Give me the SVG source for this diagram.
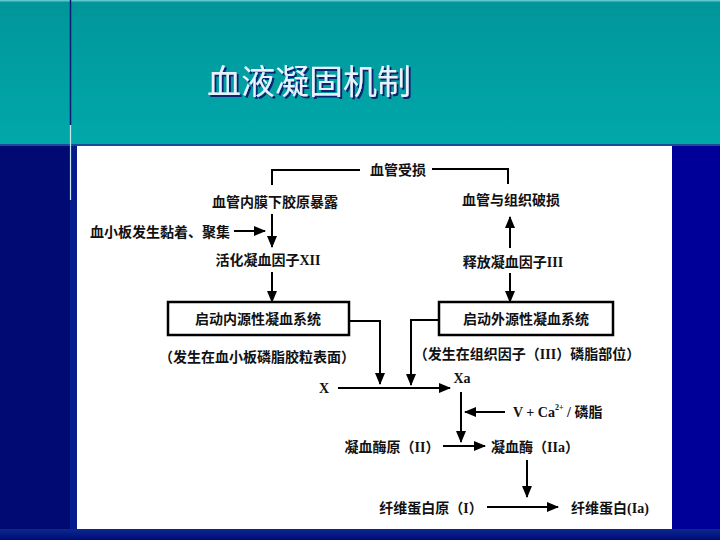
<svg xmlns="http://www.w3.org/2000/svg" width="720" height="540" viewBox="0 0 720 540">
<defs>
<linearGradient id="hdr" x1="0" y1="0" x2="0" y2="1">
<stop offset="0" stop-color="#00969a"/>
<stop offset="1" stop-color="#00a8aa"/>
</linearGradient>
<linearGradient id="bot" x1="0" y1="0" x2="0" y2="1">
<stop offset="0" stop-color="#0a2a8a"/>
<stop offset="1" stop-color="#000a7a"/>
</linearGradient>
<filter id="shadow" x="-10%" y="-20%" width="120%" height="150%">
<feDropShadow dx="2" dy="2" stdDeviation="0.3" flood-color="#0a2070" flood-opacity="1"/>
</filter>
<marker id="ah" markerUnits="userSpaceOnUse" markerWidth="12" markerHeight="10" refX="11" refY="5" orient="auto">
<path d="M0,0 L12,5 L0,10 Z" fill="#000"/>
</marker>
<style>
.t{font-family:"Liberation Serif","Noto Sans CJK SC",serif;font-size:14px;font-weight:bold;fill:#111;}
.m{text-anchor:middle;}
.c{fill:none;stroke:#000;stroke-width:2;}
.a{fill:none;stroke:#000;stroke-width:2;marker-end:url(#ah);}
.box{fill:#fff;stroke:#000;stroke-width:2.5;}
.title{font-family:"Noto Sans CJK SC",sans-serif;font-size:34px;fill:#e6f2ff;filter:url(#shadow);}
</style>
</defs>
<!-- background -->
<rect x="0" y="0" width="720" height="540" fill="#000a72"/>
<rect x="672" y="145" width="48" height="395" fill="#000099"/>
<rect x="70" y="145" width="8" height="395" fill="#061c8c"/>
<rect x="0" y="529" width="720" height="11" fill="url(#bot)"/>
<rect x="0" y="0" width="720" height="145" fill="url(#hdr)"/>
<rect x="0" y="0" width="720" height="1.5" fill="#5cc8cc"/>
<rect x="0" y="144" width="720" height="2" fill="#1a4a9a"/>
<line x1="70.5" y1="0" x2="70.5" y2="125" stroke="#0a1a70" stroke-width="1.5"/>
<line x1="70.5" y1="125" x2="70.5" y2="200" stroke="#c8e8f0" stroke-width="1.2"/>
<rect x="77" y="146" width="595" height="383" fill="#ffffff"/>
<!-- title -->
<g id="title">
<text class="title" x="207" y="94">血液凝固机制</text>
</g>
<!-- connectors -->
<g id="connectors">
<polyline class="c" points="360,170 272,170 272,185"/>
<polyline class="c" points="432,169 508,169 508,184"/>
<line class="a" x1="234" y1="231" x2="265" y2="231"/>
<line class="a" x1="272" y1="214" x2="272" y2="247"/>
<line class="a" x1="272" y1="272" x2="272" y2="302"/>
<polyline class="a" points="350,321 380,321 380,384"/>
<line class="a" x1="338" y1="388" x2="450" y2="388"/>
<polyline class="a" points="438,320 411,320 411,385"/>
<line class="a" x1="510" y1="248" x2="510" y2="217"/>
<line class="a" x1="510" y1="273" x2="510" y2="302"/>
<line class="a" x1="461" y1="392" x2="461" y2="442"/>
<line class="a" x1="505" y1="412" x2="465" y2="412"/>
<line class="a" x1="443" y1="446" x2="485" y2="446"/>
<line class="a" x1="527" y1="460" x2="527" y2="497"/>
<line class="a" x1="487" y1="507" x2="558" y2="507"/>
</g>
<!-- nodes -->
<g id="n-vessel-damage"><text class="t m" x="398" y="175">血管受损</text></g>
<g id="n-collagen"><text class="t m" x="275" y="207">血管内膜下胶原暴露</text></g>
<g id="n-platelet"><text class="t" x="90" y="237">血小板发生黏着、聚集</text></g>
<g id="n-f12"><text class="t m" x="268" y="265">活化凝血因子XII</text></g>
<g id="n-intrinsic">
<rect class="box" x="168" y="302" width="181" height="33"/>
<text class="t m" x="258" y="324">启动内源性凝血系统</text>
</g>
<g id="n-intrinsic-note"><text class="t m" x="257" y="362">（发生在血小板磷脂胶粒表面）</text></g>
<g id="n-x"><text class="t m" x="324" y="393" font-size="15">X</text></g>
<g id="n-xa"><text class="t m" x="462" y="383" font-size="15">Xa</text></g>
<g id="n-tissue"><text class="t m" x="511" y="205">血管与组织破损</text></g>
<g id="n-f3"><text class="t m" x="513" y="267">释放凝血因子III</text></g>
<g id="n-extrinsic">
<rect class="box" x="439" y="302" width="174" height="33"/>
<text class="t m" x="526" y="324">启动外源性凝血系统</text>
</g>
<g id="n-extrinsic-note"><text class="t m" x="527" y="359">（发生在组织因子（III）磷脂部位）</text></g>
<g id="n-cofactor"><text class="t" x="513" y="417">V + Ca<tspan font-size="8" dy="-7">2+</tspan><tspan dy="7"> / 磷脂</tspan></text></g>
<g id="n-prothrombin"><text class="t m" x="392" y="452">凝血酶原（II）</text></g>
<g id="n-thrombin"><text class="t m" x="535" y="452">凝血酶（IIa）</text></g>
<g id="n-fibrinogen"><text class="t m" x="431" y="513">纤维蛋白原（I）</text></g>
<g id="n-fibrin"><text class="t m" x="610" y="513">纤维蛋白(Ia)</text></g>
</svg>
